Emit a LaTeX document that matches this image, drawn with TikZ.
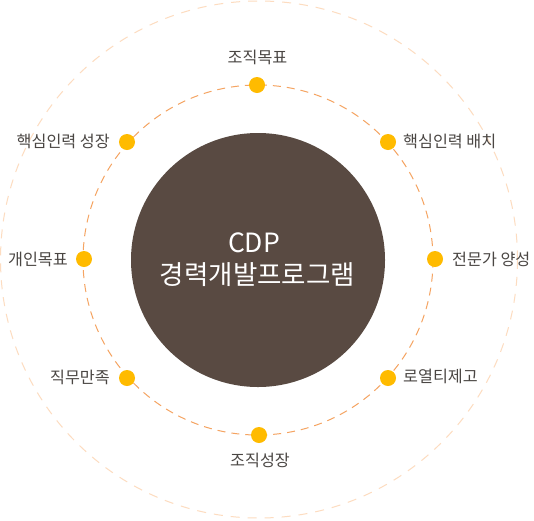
\documentclass[tikz,border=0pt]{standalone}
\usepackage{fontspec}
\newfontfamily\kr{Noto Sans CJK KR}
\definecolor{darkbrown}{HTML}{594A42}
\definecolor{dotc}{HTML}{FFBB00}
\definecolor{innerc}{HTML}{F5A462}
\definecolor{outerc}{HTML}{FDDCC0}
\definecolor{txt}{HTML}{4A4643}
\begin{document}
\begin{tikzpicture}[x=1pt,y=-1pt,
  dotn/.style={circle,fill=dotc,minimum size=16pt,inner sep=0pt},
  lbl/.style={font=\kr\fontsize{16.2}{18}\selectfont,text=txt,inner sep=0pt},
  ttl/.style={font=\kr\fontsize{26.5}{28}\selectfont,text=white,inner sep=0pt},
  ring/.style={draw,circle,inner sep=0pt}]
\useasboundingbox (0,0) rectangle (534,520);
\fill[white] (0,0) rectangle (534,520);
\node[ring,draw=outerc,line width=1pt,dash pattern=on 9pt off 8pt,minimum size=517pt] (outer) at (259,259.5) {};
\node[ring,draw=innerc,line width=1pt,dash pattern=on 8pt off 6pt,minimum size=350pt] (inner) at (258,260) {};
\node[circle,fill=darkbrown,minimum size=254pt,inner sep=0pt] (core) at (258,260) {};
\node[ttl] (cdp) at (254,243) {CDP};
\node[ttl] (title) at (257.5,275) {경력개발프로그램};
% dots
\node[dotn] (d1) at (257,85) {};
\node[dotn] (d2) at (388,142) {};
\node[dotn] (d3) at (435,259) {};
\node[dotn] (d4) at (388,378) {};
\node[dotn] (d5) at (259,435) {};
\node[dotn] (d6) at (127,378) {};
\node[dotn] (d7) at (84,259) {};
\node[dotn] (d8) at (127,142) {};
% labels
\node[lbl] (l1) at (257.5,57) {조직목표};
\node[lbl,anchor=west] (l2) at (403,141) {핵심인력 배치};
\node[lbl,anchor=west] (l3) at (452,259) {전문가 양성};
\node[lbl,anchor=west] (l4) at (403,376) {로열티제고};
\node[lbl] (l5) at (260,460) {조직성장};
\node[lbl,anchor=east] (l6) at (110,377) {직무만족};
\node[lbl,anchor=east] (l7) at (68,259) {개인목표};
\node[lbl,anchor=east] (l8) at (110,141) {핵심인력 성장};
\end{tikzpicture}
\end{document}
